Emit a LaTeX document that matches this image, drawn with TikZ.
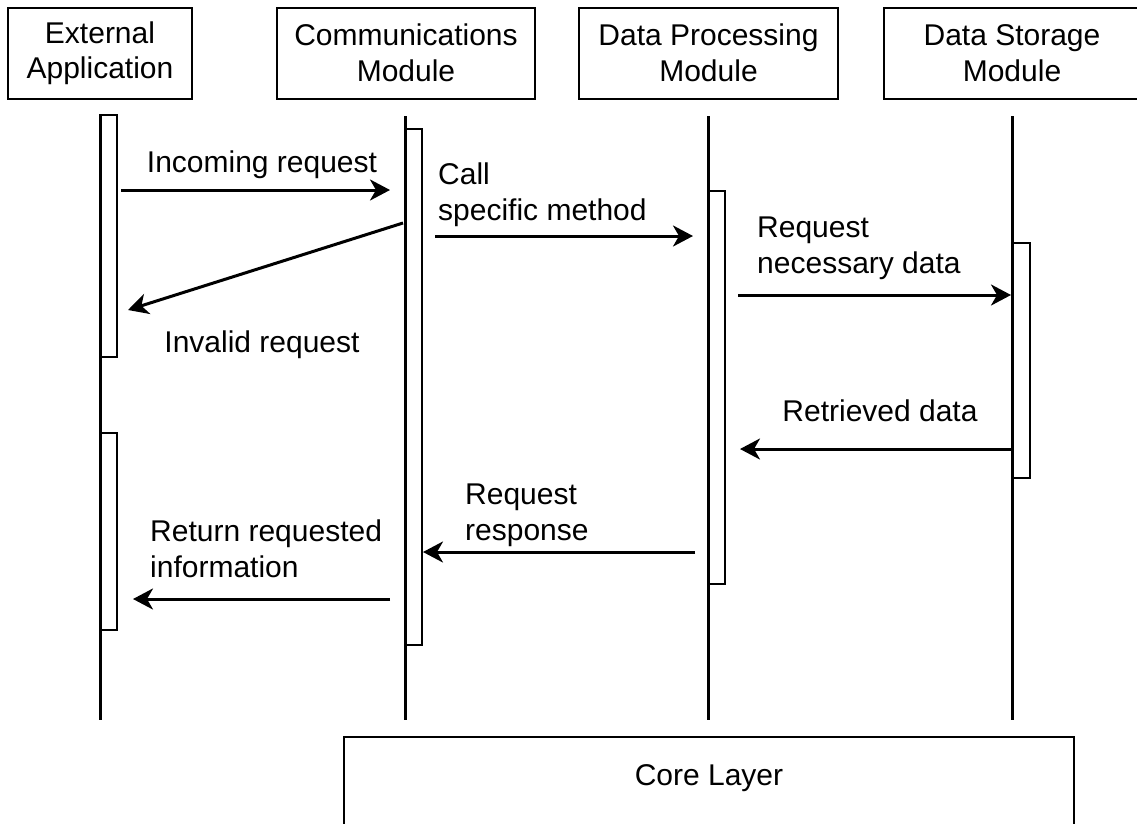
\documentclass[tikz,border=0pt]{standalone}
\usepackage{fontspec}
\setmainfont{Liberation Sans}
\usetikzlibrary{arrows.meta}
\begin{document}
\begin{tikzpicture}[x=1pt,y=-1pt,
  every node/.style={font=\fontsize{30}{35.5}\selectfont, inner sep=0pt},
  hdr/.style={draw, line width=2pt, minimum height=91pt, align=center},
  life/.style={line width=3pt},
  actbar/.style={draw, line width=2pt, fill=white, minimum width=17pt},
  msg/.style={line width=3pt, -{Stealth[length=20pt,width=21pt,inset=6pt]}},
  lbl/.style={align=left, anchor=base west}
]
\useasboundingbox (0,0) rectangle (1137,823);

% headers
\node[hdr, minimum width=184pt] (ea) at (100,53) {External\\Application};
\node[hdr, minimum width=258pt] (cm) at (406,53) {Communications\\Module};
\node[hdr, minimum width=259pt] (dp) at (708.5,53) {Data Processing\\Module};
\node[hdr, minimum width=256pt] (ds) at (1012,53) {Data Storage\\Module};

% activation bars
\node[actbar, minimum height=242pt] (ea1) at (108.5,236) {};
\node[actbar, minimum height=197pt] (ea2) at (108.5,531.5) {};
\node[actbar, minimum height=516pt] (cm1) at (413.5,387) {};
\node[actbar, minimum height=393pt] (dp1) at (716.5,387) {};
\node[actbar, minimum height=235pt] (ds1) at (1021,360.5) {};

% lifelines
\coordinate (ea-t) at (100,115); \coordinate (ea-b) at (100,720);
\coordinate (cm-t) at (405,116); \coordinate (cm-b) at (405,720);
\coordinate (dp-t) at (708,116); \coordinate (dp-b) at (708,720);
\coordinate (ds-t) at (1012,116); \coordinate (ds-b) at (1012,720);
\draw[life] (ea-t) -- (ea-b);
\draw[life] (cm-t) -- (cm-b);
\draw[life] (dp-t) -- (dp-b);
\draw[life] (ds-t) -- (ds-b);

% core layer
\node[draw, line width=2pt, minimum width=730pt, minimum height=120pt] (core) at (709,797) {};
\node[anchor=base] (coretext) at (709,785) {Core Layer};

% messages
\coordinate (m1s) at (121,190); \coordinate (m1e) at (390,190);
\draw[msg] (m1s) -- (m1e);
\node[anchor=base] (l1) at (262,172) {Incoming request};

\coordinate (m2s) at (403,223); \coordinate (m2e) at (128,310);
\draw[msg] (m2s) -- (m2e);
\node[anchor=base] (l2) at (262,352) {Invalid request};

\coordinate (m3s) at (435,236); \coordinate (m3e) at (693,236);
\draw[msg] (m3s) -- (m3e);
\node[lbl] (l3) at (438,220) {Call\\specific method};

\coordinate (m4s) at (738,295); \coordinate (m4e) at (1011,295);
\draw[msg] (m4s) -- (m4e);
\node[lbl] (l4) at (757,273) {Request\\necessary data};

\coordinate (m5s) at (1012,449); \coordinate (m5e) at (740,449);
\draw[msg] (m5s) -- (m5e);
\node[anchor=base] (l5) at (880,421) {Retrieved data};

\coordinate (m6s) at (695,552); \coordinate (m6e) at (423,552);
\draw[msg] (m6s) -- (m6e);
\node[lbl] (l6) at (465,540) {Request\\response};

\coordinate (m7s) at (390,599); \coordinate (m7e) at (133,599);
\draw[msg] (m7s) -- (m7e);
\node[lbl] (l7) at (150,577) {Return requested\\information};
\end{tikzpicture}
\end{document}
